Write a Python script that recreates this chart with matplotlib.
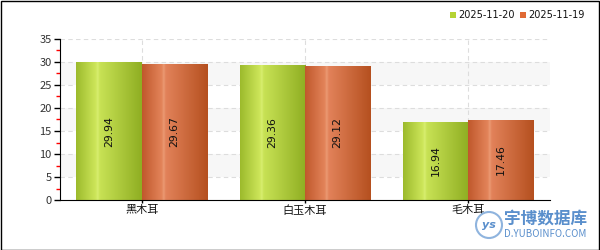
import matplotlib
matplotlib.use("Agg")
import matplotlib.pyplot as plt
import numpy as np
from matplotlib.colors import LinearSegmentedColormap
from matplotlib.patches import Rectangle, Ellipse

plt.rcParams['font.family'] = ['Noto Sans CJK SC', 'DejaVu Sans']

categories = ["黑木耳", "白玉木耳", "毛木耳"]
series_names = ["2025-11-20", "2025-11-19"]
values_1120 = [29.94, 29.36, 16.94]
values_1119 = [29.67, 29.12, 17.46]
y_ticks = [0, 5, 10, 15, 20, 25, 30, 35]

green_cmap = LinearSegmentedColormap.from_list(
    "g", [(0, "#9cba2c"), (0.3, "#cde65a"), (0.33, "#d8ee70"), (0.36, "#c8e255"), (1, "#8fae22")])
orange_cmap = LinearSegmentedColormap.from_list(
    "o", [(0, "#c0582c"), (0.3, "#e3845a"), (0.33, "#eb9a74"), (0.36, "#e2825a"), (1, "#b5501f")])

W, H = 600, 250
fig = plt.figure(figsize=(6, 2.5), dpi=100)
ax = fig.add_axes([60/W, 50/H, 490/W, 161/H])

x = np.arange(len(categories))
w = 0.4

# alternating bands
for lo in [5, 15, 25]:
    ax.axhspan(lo, lo + 5, color="#f7f7f7", zorder=0, lw=0)
for yv in y_ticks[1:]:
    ax.axhline(yv, color="#dddddd", lw=0.8, ls=(0, (4, 3)), zorder=0.5)
for xv in x:
    ax.axvline(xv, color="#dddddd", lw=0.8, ls=(0, (4, 3)), zorder=0.5)

grad = np.linspace(0, 1, 256).reshape(1, -1)
for vals, off, cmap in [(values_1120, -w/2, green_cmap), (values_1119, w/2, orange_cmap)]:
    bars = ax.bar(x + off, vals, width=w, color="none", lw=0, zorder=2)
    for b, v in zip(bars, vals):
        x0, bw, h = b.get_x(), b.get_width(), b.get_height()
        im = ax.imshow(grad, cmap=cmap, aspect="auto", extent=[x0, x0 + bw, 0, h],
                       zorder=2, interpolation="bilinear")
        im.set_clip_path(b)
        ax.text(x0 + bw/2, h/2, f"{v:.2f}", rotation=90, ha="center", va="center",
                fontsize=7.8, color="#111111", zorder=3, family="DejaVu Sans")

ax.set_xlim(-0.5, len(categories) - 0.5)
ax.set_ylim(0, 35)

for s in ["top", "right"]:
    ax.spines[s].set_visible(False)
ax.spines["left"].set_color("#000000")
ax.spines["bottom"].set_color("#000000")
ax.set_yticks(y_ticks)
ax.set_yticklabels([str(t) for t in y_ticks], fontsize=8, color="#333333")
ax.set_yticks(np.arange(2.5, 35, 5), minor=True)
ax.tick_params(axis="y", which="major", length=4, width=1, color="#000000", pad=2)
ax.tick_params(axis="y", which="minor", length=3, width=1, color="#ff0000")
ax.set_xticks(x)
ax.set_xticklabels(categories, fontsize=8, color="#111111")
ax.tick_params(axis="x", length=5, width=1, color="#000000", pad=1, direction="inout")

# legend
ly = 1 - 15/H
for sx, tx, col, name in [(450, 458, "#b5d334", series_names[0]),
                          (520, 528, "#e06a35", series_names[1])]:
    fig.add_artist(Rectangle((sx/W, ly - 3/H), 6/W, 6/H, transform=fig.transFigure,
                             color=col, lw=0))
    fig.text(tx/W, ly, name, fontsize=7, ha="left", va="center",
             family="DejaVu Sans", color="#111111")

# watermark
wm = "#5a8fcc"
fig.text(545.5/W, 1 - 219/H, "宇博数据库", color=wm, fontsize=12, ha="center", va="center",
         weight="bold")
fig.text(545.5/W, 1 - 234/H, "D.YUBOINFO.COM", color=wm, fontsize=7, ha="center", va="center")
fig.add_artist(Ellipse((489/W, 1 - 225/H), 26/W, 26/H, transform=fig.transFigure,
                       fill=False, ec="#8fb4de", lw=1.5))
fig.text(489/W, 1 - 225/H, "ys", color=wm, fontsize=8, ha="center", va="center",
         style="italic", weight="bold", family="DejaVu Sans")

fig.add_artist(Rectangle((0.5/W, 0.5/H), 1 - 1.5/W, 1 - 1.5/H, transform=fig.transFigure,
                         fill=False, ec="black", lw=1.0))

fig.savefig("out.png", dpi=100)
